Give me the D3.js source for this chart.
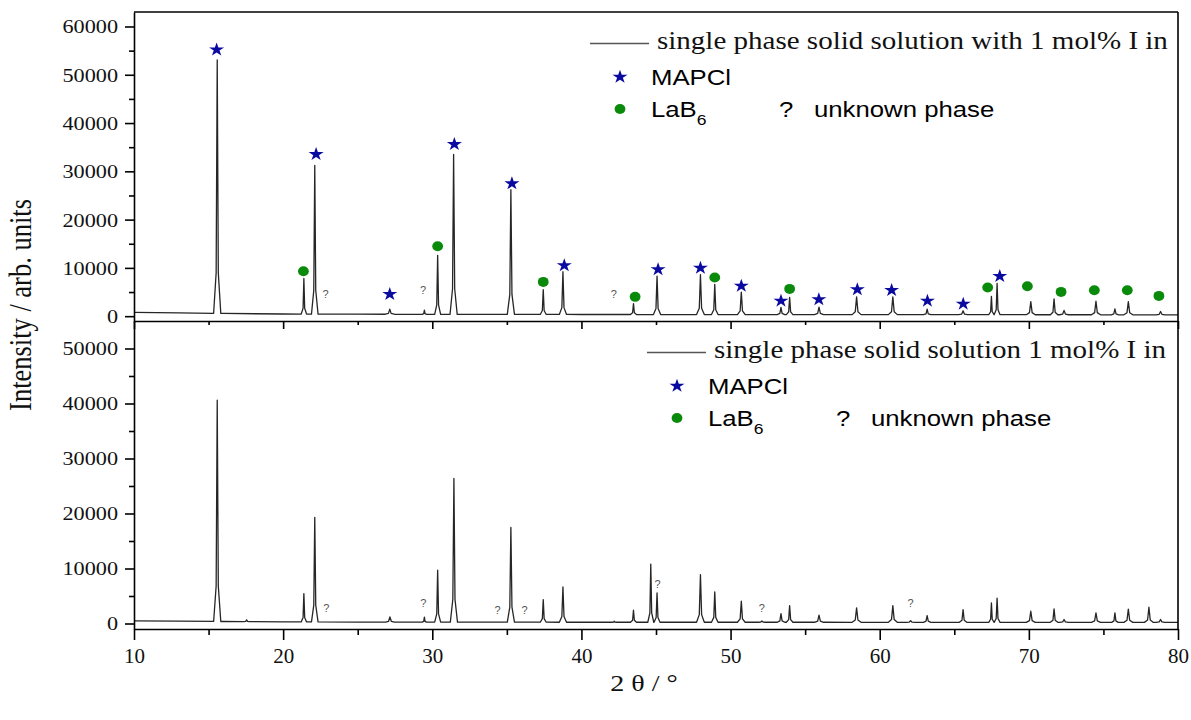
<!DOCTYPE html>
<html><head><meta charset="utf-8">
<script src="https://cdn.jsdelivr.net/npm/d3@7"></script>
<style>body{margin:0;background:#fff} svg{display:block}</style>
</head><body><svg id="c" width="1191" height="720"></svg>
<script>
// ---------------- data ----------------
const bgAngles = [10, 13, 16, 20, 25, 30, 40, 50, 60, 70, 80];
const topBackground = [780, 700, 560, 450, 410, 390, 350, 330, 320, 300, 280];
const bottomBackground = [470, 420, 360, 300, 260, 240, 230, 230, 220, 210, 200];

const topPeakPos = [15.58, 21.39, 22.12, 27.15, 29.47, 30.36, 31.43, 35.27, 37.44, 38.76, 43.49, 45.07, 47.98, 48.94, 50.72, 53.38, 53.96, 55.93, 58.45, 60.88, 63.18, 65.59, 67.49, 67.87, 70.13, 71.69, 72.36, 74.5, 75.77, 76.67, 78.83];
const topPeakInt = [53100, 7800, 31250, 1450, 1240, 12600, 33500, 26200, 5500, 9200, 2600, 8300, 8600, 6600, 5000, 1800, 3900, 1860, 4000, 4000, 1450, 1100, 4100, 6800, 3000, 3600, 1200, 3100, 1500, 3000, 970];
const topPeakHalfWidth = [0.24, 0.18, 0.22, 0.3, 0.15, 0.2, 0.24, 0.24, 0.2, 0.24, 0.2, 0.24, 0.26, 0.22, 0.26, 0.25, 0.22, 0.3, 0.3, 0.3, 0.25, 0.3, 0.18, 0.2, 0.3, 0.25, 0.3, 0.3, 0.25, 0.3, 0.3];

const bottomPeakPos = [15.58, 17.55, 21.39, 22.12, 27.16, 29.47, 30.36, 31.45, 35.27, 37.44, 38.76, 42.2, 43.49, 44.65, 45.07, 47.98, 48.94, 50.72, 52.1, 53.38, 53.96, 55.93, 58.45, 60.88, 62.07, 63.18, 65.59, 67.49, 67.87, 70.13, 71.69, 72.36, 74.5, 75.77, 76.67, 78.05, 78.83];
const bottomPeakInt = [40600, 650, 5440, 19300, 1200, 1150, 9680, 26360, 17470, 4350, 6650, 420, 2420, 10800, 5560, 8890, 5750, 4050, 450, 1810, 3260, 1510, 2840, 3260, 500, 1450, 2540, 3750, 4600, 2230, 2660, 720, 1930, 1930, 2600, 2960, 720];
const bottomPeakHalfWidth = [0.24, 0.2, 0.18, 0.22, 0.3, 0.15, 0.2, 0.24, 0.24, 0.2, 0.24, 0.15, 0.2, 0.2, 0.2, 0.26, 0.22, 0.26, 0.25, 0.25, 0.22, 0.3, 0.3, 0.3, 0.3, 0.25, 0.25, 0.18, 0.2, 0.3, 0.25, 0.3, 0.3, 0.22, 0.3, 0.3, 0.3];

// phase markers (top pattern)
const starAngles = [15.54, 22.21, 27.15, 31.48, 35.34, 38.85, 45.14, 47.98, 50.72, 53.38, 55.92, 58.5, 60.8, 63.2, 65.6, 68.05];
const starInt = [55200, 33530, 4550, 35600, 27470, 10500, 9670, 10000, 6270, 3170, 3460, 5530, 5380, 3170, 2550, 8280];
const dotAngles = [21.36, 30.36, 37.44, 43.6, 48.94, 53.96, 67.24, 69.9, 72.16, 74.39, 76.6, 78.72];
const dotInt = [9300, 14500, 7100, 4000, 8000, 5650, 5940, 6200, 5030, 5380, 5380, 4200];
const topUnknownAngles = [22.84, 29.38, 42.17];
const topUnknownInt = [4550, 5380, 4550];
const bottomUnknownAngles = [22.9, 29.4, 34.38, 36.19, 45.1, 52.1, 62.07];
const bottomUnknownInt = [2850, 3750, 2480, 2480, 7200, 2780, 3690];

const xTicks = [10, 20, 30, 40, 50, 60, 70, 80];
const xMinorTicks = [15, 25, 35, 45, 55, 65, 75];
const topYTicks = [0, 10000, 20000, 30000, 40000, 50000, 60000];
const topYMinor = [5000, 15000, 25000, 35000, 45000, 55000];
const bottomYTicks = [0, 10000, 20000, 30000, 40000, 50000];
const bottomYMinor = [5000, 15000, 25000, 35000, 45000];

const legendTopTitle = "single phase solid solution with 1 mol% I in";
const legendBottomTitle = "single phase solid solution 1 mol% I in";
const legendPhase1 = "MAPCl";
const legendPhase2 = "LaB";
const legendPhase2Sub = "6";
const legendUnknown = "unknown phase";
const xTitle = "2 θ / °";
const yTitle = "Intensity / arb. units";

// ---------------- drawing ----------------
const SX = 1.17;
const SERIF = "'Liberation Serif','Times New Roman',serif";
const SANS = "'Liberation Sans',Arial,sans-serif";
const STAR = "#0a0aa0", GREEN = "#0a8a0a";

const svg = d3.select('#c');
const x = d3.scaleLinear().domain([10, 80]).range([134, 1178]);
const yTop = d3.scaleLinear().domain([-1000, 63000]).range([321, 12]);
const yBot = d3.scaleLinear().domain([-1000, 55000]).range([629, 321]);
const bgTop = d3.scaleLinear().domain(bgAngles).range(topBackground);
const bgBot = d3.scaleLinear().domain(bgAngles).range(bottomBackground);

function profile(bg, pos, ints, hw) {
  const pts = [];
  pos.forEach((p, i) => {
    const w = hw[i], d = ints[i] - bg(p);
    pts.push([p - w, bg(p - w)], [p - 0.3 * w, bg(p - 0.3 * w) + 0.16 * d], [p, ints[i]],
             [p + 0.3 * w, bg(p + 0.3 * w) + 0.16 * d], [p + w, bg(p + w)]);
  });
  bgAngles.forEach(a => { if (!pos.some((p, i) => Math.abs(a - p) < hw[i])) pts.push([a, bg(a)]); });
  return pts.sort((a, b) => a[0] - b[0]);
}

function drawPattern(y, bg, pos, ints, hw) {
  const line = d3.line().x(d => x(d[0])).y(d => y(d[1]));
  svg.append('path').attr('d', line(profile(bg, pos, ints, hw)))
    .attr('fill', 'none').attr('stroke', '#262626').attr('stroke-width', 1.3)
    .attr('stroke-linejoin', 'round');
}
drawPattern(yTop, bgTop, topPeakPos, topPeakInt, topPeakHalfWidth);
drawPattern(yBot, bgBot, bottomPeakPos, bottomPeakInt, bottomPeakHalfWidth);

// axes
function styleAxis(g) {
  g.attr('font-family', SERIF);
  g.selectAll('path,line').attr('stroke', '#000').attr('stroke-width', 1.6);
}
function yAxis(y, ticks, minor) {
  const gm = svg.append('g').attr('transform', 'translate(134,0)')
    .call(d3.axisLeft(y).tickValues(minor).tickSize(5).tickSizeOuter(0).tickFormat(''));
  gm.select('.domain').remove();
  styleAxis(gm);
  const g = svg.append('g').attr('transform', 'translate(134,0)')
    .call(d3.axisLeft(y).tickValues(ticks).tickSize(9).tickSizeOuter(0).tickFormat(d3.format('d')));
  styleAxis(g);
  g.selectAll('text').attr('x', -16 / SX).attr('dy', '0.34em')
    .attr('transform', `scale(${SX},1)`)
    .attr('font-family', SERIF).attr('font-size', 19).attr('fill', '#111');
}
yAxis(yTop, topYTicks, topYMinor);
yAxis(yBot, bottomYTicks, bottomYMinor);

function xAxis(yPos, major, minorLen, labels) {
  const gm = svg.append('g').attr('transform', `translate(0,${yPos})`)
    .call(d3.axisBottom(x).tickValues(xMinorTicks).tickSize(minorLen).tickSizeOuter(0).tickFormat(''));
  gm.select('.domain').remove();
  styleAxis(gm);
  const g = svg.append('g').attr('transform', `translate(0,${yPos})`)
    .call(d3.axisBottom(x).tickValues(xTicks).tickSize(major).tickSizeOuter(0).tickFormat(labels ? d3.format('d') : ''));
  styleAxis(g);
  g.selectAll('text').attr('y', 34).attr('dy', 0)
    .attr('transform', `scale(1.05,1)`)
    .attr('font-family', SERIF).attr('font-size', 20).attr('fill', '#111');
}
xAxis(321, 8, 4, false);
xAxis(629, 11, 6, true);

// frame: top and right
svg.append('line').attr('x1', x(10)).attr('x2', x(80)).attr('y1', yTop.range()[1]).attr('y2', yTop.range()[1])
  .attr('stroke', '#000').attr('stroke-width', 1.6);
svg.append('line').attr('x1', x(80)).attr('x2', x(80)).attr('y1', yTop.range()[1]).attr('y2', yBot.range()[0])
  .attr('stroke', '#000').attr('stroke-width', 1.6);

// markers
const starSym = d3.symbol().type(d3.symbolStar).size(58);
svg.append('g').selectAll('path').data(starAngles).join('path')
  .attr('d', starSym).attr('fill', STAR)
  .attr('transform', (d, i) => `translate(${x(d)},${yTop(starInt[i])}) scale(1.1,1)`);
svg.append('g').selectAll('ellipse').data(dotAngles).join('ellipse')
  .attr('cx', d => x(d)).attr('cy', (d, i) => yTop(dotInt[i])).attr('rx', 5.4).attr('ry', 5)
  .attr('fill', GREEN);
function unknowns(angles, ints, y) {
  svg.append('g').selectAll('text').data(angles).join('text')
    .attr('x', d => x(d)).attr('y', (d, i) => y(ints[i]))
    .attr('dy', '0.35em').attr('text-anchor', 'middle')
    .attr('font-family', SANS).attr('font-size', 11).attr('fill', '#555').text('?');
}
unknowns(topUnknownAngles, topUnknownInt, yTop);
unknowns(bottomUnknownAngles, bottomUnknownInt, yBot);

// legends
function stext(g, xx, yy, str, family, size, fill) {
  return g.append('text').attr('transform', `translate(${xx},${yy}) scale(${SX},1)`)
    .attr('font-family', family).attr('font-size', size).attr('fill', fill || '#000').text(str);
}
function legend(dx, dy, title) {
  const g = svg.append('g').attr('transform', `translate(${dx},${dy})`);
  g.append('line').attr('x1', 590).attr('x2', 649).attr('y1', 43.5).attr('y2', 43.5)
    .attr('stroke', '#555').attr('stroke-width', 1.5);
  stext(g, 657, 49, title, SERIF, 24.8, '#111');
  g.append('path').attr('d', starSym).attr('fill', STAR).attr('transform', 'translate(620,77) scale(1.1,1)');
  stext(g, 651, 84.5, legendPhase1, SANS, 22);
  g.append('ellipse').attr('cx', 620).attr('cy', 109).attr('rx', 5.4).attr('ry', 5).attr('fill', GREEN);
  const t = stext(g, 651, 117, legendPhase2, SANS, 22);
  t.append('tspan').attr('font-size', 15).attr('dy', 8).text(legendPhase2Sub);
  stext(g, 779, 117, '?', SANS, 22);
  stext(g, 814, 117, legendUnknown, SANS, 22);
}
legend(0, 0, legendTopTitle);
legend(57, 309, legendBottomTitle);

// axis titles
svg.append('text').attr('transform', `translate(644,691) scale(${SX},1)`).attr('text-anchor', 'middle')
  .attr('font-family', SERIF).attr('font-size', 24).attr('fill', '#111').text(xTitle);
svg.append('text').attr('transform', `translate(31,305) rotate(-90) scale(1,${SX})`).attr('text-anchor', 'middle')
  .attr('font-family', SERIF).attr('font-size', 26.5).attr('fill', '#111').text(yTitle);
</script></body></html>
